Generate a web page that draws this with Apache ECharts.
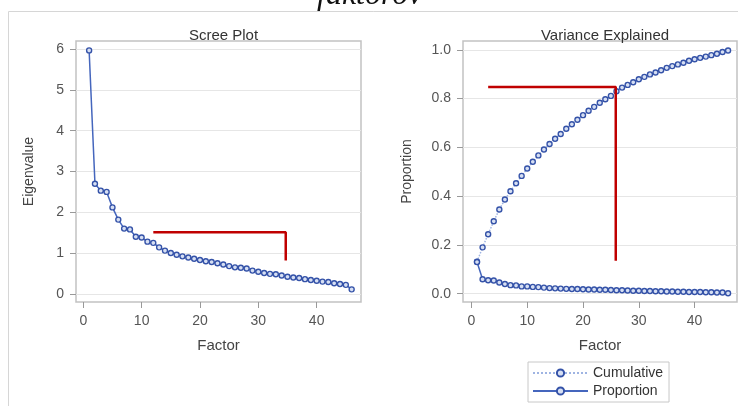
<!DOCTYPE html>
<html>
<head>
<meta charset="utf-8">
<script src="https://cdn.jsdelivr.net/npm/echarts@6/dist/echarts.min.js"></script>
<style>html,body{margin:0;padding:0;background:#fff;}#c{width:738px;height:406px;}</style>
</head>
<body>
<div id="c"></div>
<script>
// ---- data ----
var factors = [1,2,3,4,5,6,7,8,9,10,11,12,13,14,15,16,17,18,19,20,21,22,23,24,25,26,27,28,29,30,31,32,33,34,35,36,37,38,39,40,41,42,43,44,45,46];
var eigenvalues = [5.97,2.70,2.53,2.50,2.12,1.82,1.60,1.58,1.40,1.38,1.28,1.25,1.14,1.06,1.00,0.96,0.92,0.89,0.86,0.83,0.80,0.78,0.75,0.72,0.68,0.65,0.64,0.62,0.57,0.54,0.51,0.49,0.48,0.45,0.42,0.40,0.39,0.36,0.34,0.32,0.30,0.29,0.26,0.24,0.22,0.11];
var proportion = [0.130,0.059,0.055,0.054,0.046,0.040,0.035,0.034,0.030,0.030,0.028,0.027,0.025,0.023,0.022,0.021,0.020,0.019,0.019,0.018,0.017,0.017,0.016,0.016,0.015,0.014,0.014,0.013,0.012,0.012,0.011,0.011,0.010,0.010,0.009,0.009,0.008,0.008,0.007,0.007,0.007,0.006,0.006,0.005,0.005,0.002];
var cumulative = [0.131,0.190,0.244,0.297,0.345,0.386,0.420,0.453,0.483,0.513,0.541,0.567,0.591,0.614,0.635,0.655,0.676,0.695,0.713,0.732,0.750,0.766,0.783,0.797,0.811,0.830,0.845,0.856,0.867,0.879,0.889,0.899,0.907,0.916,0.926,0.933,0.940,0.947,0.955,0.961,0.967,0.972,0.978,0.984,0.991,0.997];
var factorTicks = [0,10,20,30,40];
var eigenTicks = [0,1,2,3,4,5,6];
var propTicks = [0,0.2,0.4,0.6,0.8,1.0];
// red annotation polylines (data coordinates)
var screeMarkX = [12.0, 34.7, 34.7];
var screeMarkY = [1.51, 1.51, 0.82];
var varMarkX = [3.0, 25.87, 25.87];
var varMarkY = [0.847, 0.847, 0.135];

function pairs(xs, ys){ return xs.map(function(x,i){ return [x, ys[i]]; }); }

var FONT = '"Liberation Sans", Arial, sans-serif';
var LINE = '#4566bd';
var MARK = '#3452a8';
var MFILL = '#d6dff3';
var tickLab = {color:'#555', fontSize:14, fontFamily:FONT};

function xAx(gi, min, max){
  return {type:'value', gridIndex:gi, min:min, max:max,
    axisLine:{show:false, onZero:false},
    axisTick:{show:true, customValues:factorTicks, length:6, lineStyle:{color:'#999'}},
    axisLabel:Object.assign({customValues:factorTicks, margin:12}, tickLab),
    splitLine:{show:false},
    name:'Factor', nameLocation:'middle', nameGap:36,
    nameTextStyle:{color:'#444', fontSize:15, fontFamily:FONT}};
}
function yAx(gi, min, max, ticks, fmt, name, gap){
  return {type:'value', gridIndex:gi, min:min, max:max,
    axisLine:{show:false, onZero:false},
    axisTick:{show:true, customValues:ticks, length:6, lineStyle:{color:'#999'}},
    axisLabel:Object.assign({customValues:ticks, margin:12, formatter:fmt}, tickLab),
    splitLine:{show:true, lineStyle:{color:'#e6e6e6', width:1}},
    name:name, nameLocation:'middle', nameGap:gap, nameRotate:90,
    nameTextStyle:{color:'#444', fontSize:14, fontFamily:FONT}};
}
var sym = {symbol:'circle', symbolSize:5, itemStyle:{color:MFILL, borderColor:MARK, borderWidth:1.4}};

var option = {
  animation:false,
  backgroundColor:'#fff',
  graphic:[
    {type:'rect', shape:{x:8.5, y:11.5, width:800, height:500}, style:{fill:'none', stroke:'#d6d6d6', lineWidth:1}, z:-1},
    {type:'text', left:317, top:-20, style:{text:'faktorov', font:'italic 32px "Liberation Serif", "Times New Roman", serif', fill:'#111'}}
  ],
  title:[
    {text:'Scree Plot', left:218.5, top:23, textAlign:'center', textStyle:{fontSize:15, fontWeight:'normal', color:'#333', fontFamily:FONT}},
    {text:'Variance Explained', left:600, top:23, textAlign:'center', textStyle:{fontSize:15, fontWeight:'normal', color:'#333', fontFamily:FONT}}
  ],
  grid:[
    {left:76, top:41, width:285, height:261, show:true, borderColor:'#c2c2c2', borderWidth:1.5, backgroundColor:'transparent'},
    {left:463, top:41, width:274, height:261, show:true, borderColor:'#c2c2c2', borderWidth:1.5, backgroundColor:'transparent'}
  ],
  xAxis:[ xAx(0, -1.25, 47.6), xAx(1, -1.51, 47.6) ],
  yAxis:[
    yAx(0, -0.2, 6.2, eigenTicks, function(v){return String(v);}, 'Eigenvalue', 40),
    yAx(1, -0.034, 1.036, propTicks, function(v){return v.toFixed(1);}, 'Proportion', 49)
  ],
  legend:{
    orient:'vertical', left:528, top:362, itemWidth:55, itemHeight:9, itemGap:4,
    borderColor:'#c8c8c8', borderWidth:1, borderRadius:0, padding:[4,6,4,4],
    textStyle:{fontSize:14, color:'#333', fontFamily:FONT},
    data:['Cumulative','Proportion']
  },
  series:[
    Object.assign({type:'line', name:'Eigenvalue', xAxisIndex:0, yAxisIndex:0,
      data:pairs(factors, eigenvalues), lineStyle:{color:LINE, width:1.5}, z:3}, sym),
    Object.assign({type:'line', name:'Cumulative', xAxisIndex:1, yAxisIndex:1,
      data:pairs(factors, cumulative), lineStyle:{color:'#9fb4e2', width:1.5, type:'dotted'}, z:3}, sym),
    Object.assign({type:'line', name:'Proportion', xAxisIndex:1, yAxisIndex:1,
      data:pairs(factors, proportion), lineStyle:{color:LINE, width:1.5}, z:3}, sym),
    {type:'line', name:'markA', xAxisIndex:0, yAxisIndex:0, data:pairs(screeMarkX, screeMarkY),
      symbol:'none', lineStyle:{color:'#c00000', width:2.5}, z:5, silent:true},
    {type:'line', name:'markB', xAxisIndex:1, yAxisIndex:1, data:pairs(varMarkX, varMarkY),
      symbol:'none', lineStyle:{color:'#c00000', width:2.5}, z:5, silent:true}
  ]
};
var chart = echarts.init(document.getElementById('c'), null, {renderer:'canvas'});
chart.setOption(option);
</script>
</body>
</html>
